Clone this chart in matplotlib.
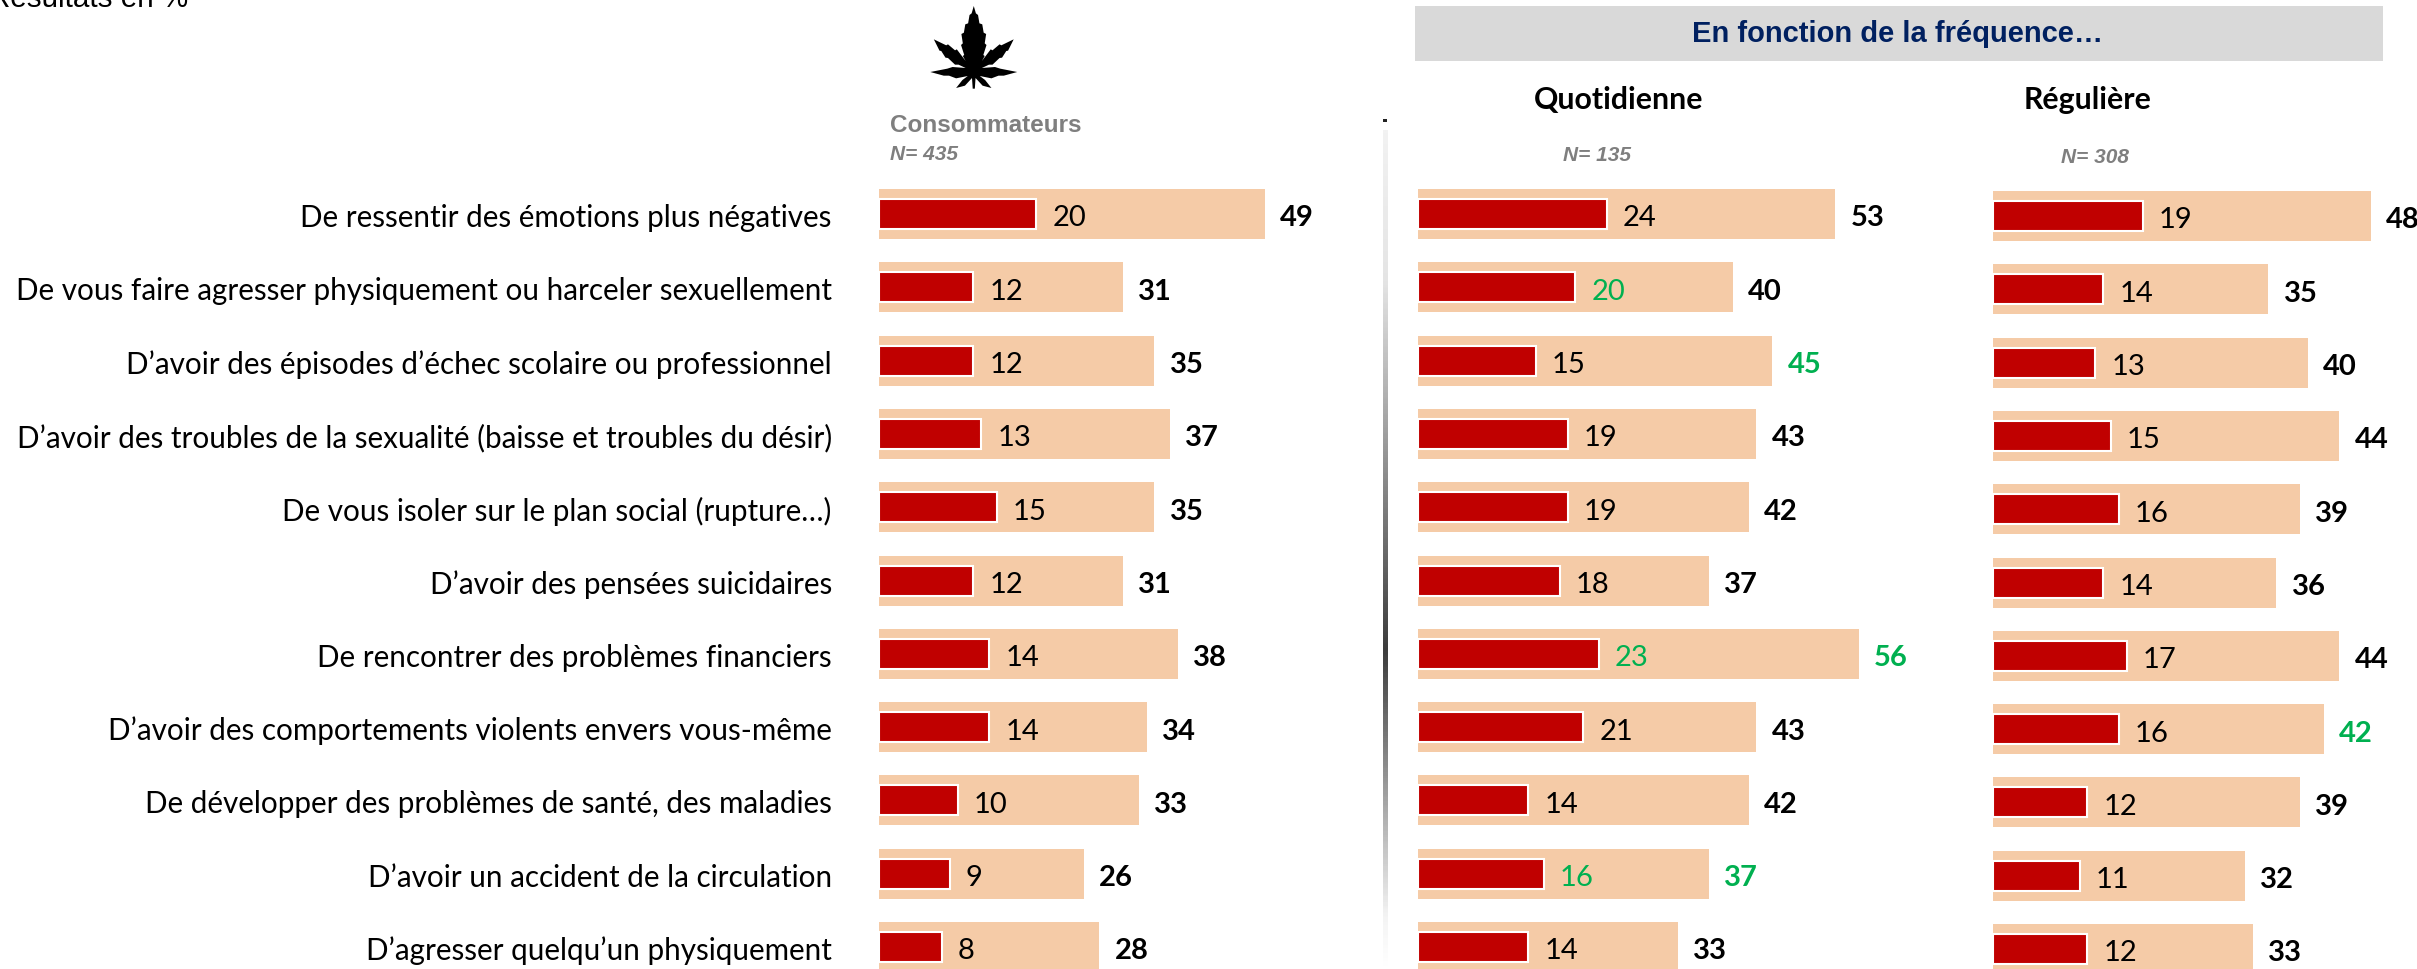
import numpy as np
import matplotlib
matplotlib.use("Agg")
import matplotlib.pyplot as plt
from matplotlib.colors import LinearSegmentedColormap
from matplotlib.patches import Polygon, Rectangle
from matplotlib.transforms import ScaledTranslation

categories = [
    "De ressentir des émotions plus négatives",
    "De vous faire agresser physiquement ou harceler sexuellement",
    "D’avoir des épisodes d’échec scolaire ou professionnel",
    "D’avoir des troubles de la sexualité (baisse et troubles du désir)",
    "De vous isoler sur le plan social (rupture…)",
    "D’avoir des pensées suicidaires",
    "De rencontrer des problèmes financiers",
    "D’avoir des comportements violents envers vous-même",
    "De développer des problèmes de santé, des maladies",
    "D’avoir un accident de la circulation",
    "D’agresser quelqu’un physiquement",
]
conso_red = [20, 12, 12, 13, 15, 12, 14, 14, 10, 9, 8]
conso_pink = [49, 31, 35, 37, 35, 31, 38, 34, 33, 26, 28]
quot_red = [24, 20, 15, 19, 19, 18, 23, 21, 14, 16, 14]
quot_pink = [53, 40, 45, 43, 42, 37, 56, 43, 42, 37, 33]
reg_red = [19, 14, 13, 15, 16, 14, 17, 16, 12, 11, 12]
reg_pink = [48, 35, 40, 44, 39, 36, 44, 42, 39, 32, 33]
quot_red_green = [1, 6, 9]
quot_pink_green = [2, 6, 9]
reg_pink_green = [7]

W, H = 2417, 969
PINK, RED, GREEN = "#F5CBA7", "#C00000", "#00B050"
PX_PER_UNIT = 7.87
ROW = 73.3
BODY = "Lato"
ARIAL = "Liberation Sans"
VAL_SIZE = 21

fig = plt.figure(figsize=(W / 100, H / 100), dpi=100, facecolor="white")


def panel(x0, x1, y0, red, pink, red_green=(), pink_green=(), labels=None):
    ax = fig.add_axes([x0 / W, 0, (x1 - x0) / W, 1])
    ax.set_xlim(0, (x1 - x0) / PX_PER_UNIT)
    ax.set_ylim((H - y0) / ROW, -y0 / ROW)
    for s in ax.spines.values():
        s.set_visible(False)
    ax.patch.set_alpha(0)
    ax.set_xticks([])
    rows = np.arange(len(red))
    ax.barh(rows, pink, height=50 / ROW, color=PINK, linewidth=0)
    ax.barh(rows, red, height=30 / ROW, color=RED, edgecolor="white", linewidth=1.5)
    for i in rows:
        ax.annotate(str(red[i]), (red[i], i), xytext=(11.5, -1.4), textcoords="offset points",
                    va="center_baseline", ha="left", fontsize=VAL_SIZE, family=BODY,
                    color=GREEN if i in red_green else "black", annotation_clip=False)
        ax.annotate(str(pink[i]), (pink[i], i), xytext=(11, -1.4), textcoords="offset points",
                    va="center_baseline", ha="left", fontsize=VAL_SIZE, family=BODY, fontweight="bold",
                    color=GREEN if i in pink_green else "black", annotation_clip=False)
    if labels is None:
        ax.set_yticks([])
    else:
        ax.set_yticks(rows, labels, family=BODY, fontsize=21.3, color="black")
        ax.tick_params(axis="y", length=0, pad=34)
        shift = ScaledTranslation(0, -1.5 / 100, fig.dpi_scale_trans)
        for lab in ax.get_yticklabels():
            lab.set_transform(lab.get_transform() + shift)
    return ax


panel(879, 1290, 214, conso_red, conso_pink, labels=categories)
panel(1418, 1900, 214, quot_red, quot_pink, quot_red_green, quot_pink_green)
panel(1993, 2417, 216, reg_red, reg_pink, (), reg_pink_green)

# Overlay in image pixels for the headers and decoration
ov = fig.add_axes([0, 0, 1, 1], zorder=5)
ov.set_xlim(0, W)
ov.set_ylim(H, 0)
ov.axis("off")
ov.patch.set_alpha(0)

ov.text(188, 7, "Résultats en %", ha="right", va="baseline", family=ARIAL, fontsize=21.3, color="black")
ov.add_patch(Rectangle((1415, 6), 968, 55, color="#D9D9D9", lw=0))
ov.text(1898, 34, "En fonction de la fréquence…", ha="center", va="center", family=ARIAL,
        fontweight="bold", fontsize=21, color="#002060")
ov.text(1619, 100, "Quotidienne", ha="center", va="center", family=BODY, fontweight="bold", fontsize=21.8)
ov.text(2088, 100, "Régulière", ha="center", va="center", family=BODY, fontweight="bold", fontsize=21.8)
ov.text(1597, 155, "N= 135", ha="center", va="center", family=ARIAL, style="italic",
        fontweight="bold", fontsize=15, color="#7F7F7F")
ov.text(2095, 157, "N= 308", ha="center", va="center", family=ARIAL, style="italic",
        fontweight="bold", fontsize=15, color="#7F7F7F")
ov.text(890, 125, "Consommateurs", ha="left", va="center", family=ARIAL, fontweight="bold",
        fontsize=17.5, color="#7F7F7F")
ov.text(890, 154, "N= 435", ha="left", va="center", family=ARIAL, style="italic",
        fontweight="bold", fontsize=15, color="#7F7F7F")

# Leaf: right half outline in zoomed-crop units, mirrored around the stem
half = [(155, 18), (161, 40), (167, 45), (171, 70), (179, 73), (183, 98), (190, 102), (186, 130),
        (191, 135), (182, 165), (186, 168), (178, 183), (203, 148), (208, 151), (228, 133), (233, 136),
        (268, 118), (252, 152), (247, 153), (235, 173), (228, 174), (208, 194), (198, 194), (178, 204),
        (215, 201), (230, 206), (278, 216), (240, 227), (225, 227), (205, 235), (172, 228),
        (187, 240), (205, 264), (180, 257), (160, 234), (158, 266), (155, 266)]
outline = half + [(310 - x, y) for x, y in reversed(half)]
leaf = [(919 + x / 2.83, y / 3) for x, y in outline]
ov.add_patch(Polygon(leaf, closed=True, color="black", lw=0))

# Separator with vertical gradient
sep_stops = [(0.0, "#ffffff"), (0.06, "#f4f4f4"), (0.38, "#3c3c3c"), (0.82, "#e4e4e4"), (1.0, "#f2f2f2")]
cmap = LinearSegmentedColormap.from_list("sep", sep_stops)
sax = fig.add_axes([1383 / W, 0, 4.5 / W, (H - 130) / H], zorder=4)
sax.imshow(np.linspace(1, 0, 400).reshape(-1, 1), aspect="auto", cmap=cmap, vmin=0, vmax=1)
sax.axis("off")
ov.add_patch(Rectangle((1383, 119), 4, 3, color="#222222", lw=0))

fig.savefig("out.png", dpi=100, facecolor="white")
